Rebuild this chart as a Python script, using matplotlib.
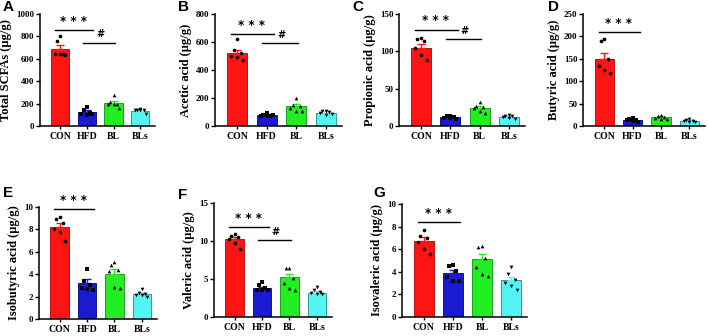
import matplotlib
matplotlib.use('Agg')
import matplotlib.pyplot as plt
import numpy as np

plt.rcParams['font.family'] = ['Liberation Serif', 'DejaVu Serif']
plt.rcParams['font.weight'] = 'bold'

groups = ['CON', 'HFD', 'BL', 'BLs']
colors = ['#ff1414', '#1a1ad2', '#22ee22', '#55f4f4']
edges = ['#b00000', '#000080', '#109010', '#208888']
markers = ['o', 's', '^', 'v']

panel_letters = ['A', 'B', 'C', 'D', 'E', 'F', 'G']
ylabels = ['Total SCFAs (μg/g)', 'Acetic acid (μg/g)', 'Propionic acid (μg/g)',
           'Butyric acid (μg/g)', 'Isobutyric acid (μg/g)', 'Valeric acid (μg/g)',
           'Isovaleric acid (μg/g)']
ymax = [1000, 800, 150, 250, 10, 15, 10]
ystep = [200, 200, 50, 50, 2, 5, 2]

means = [
    [690, 125, 205, 135],
    [520, 78, 140, 95],
    [105, 12, 24, 12],
    [150, 13, 19, 11],
    [8.2, 3.2, 4.0, 2.2],
    [10.2, 3.8, 5.2, 3.2],
    [6.75, 3.85, 5.1, 3.25],
]
sems = [
    [30, 15, 15, 10],
    [25, 5, 15, 10],
    [5, 1, 3, 1.5],
    [13, 2, 3, 2],
    [0.35, 0.35, 0.45, 0.12],
    [0.3, 0.2, 0.5, 0.2],
    [0.3, 0.3, 0.5, 0.3],
]
points = [
    [[800, 760, 640, 640, 640, 630], [170, 140, 120, 110, 100, 110],
     [280, 210, 200, 200, 200, 160], [150, 145, 140, 140, 140, 110]],
    [[620, 540, 520, 500, 490, 470], [90, 80, 75, 70, 75, 80],
     [200, 150, 140, 130, 110, 110], [110, 105, 100, 90, 80, 85]],
    [[118, 116, 114, 105, 95, 88], [14, 13, 12, 11, 11, 10],
     [32, 27, 25, 24, 20, 18], [15, 14, 13, 12, 11, 10]],
    [[195, 190, 150, 135, 125, 118], [17, 15, 14, 13, 12, 10],
     [25, 22, 20, 18, 16, 15], [15, 13, 12, 11, 10, 8]],
    [[9.1, 8.9, 8.6, 8.0, 7.8, 7.0], [4.5, 3.4, 3.0, 2.8, 2.7, 2.6],
     [5.1, 4.8, 4.4, 4.3, 2.9, 2.8], [2.7, 2.3, 2.2, 2.1, 2.1, 2.0]],
    [[10.9, 10.7, 10.5, 10.3, 9.8, 9.0], [4.6, 4.2, 3.8, 3.6, 3.5, 3.5],
     [6.5, 6.5, 5.1, 4.5, 3.8, 3.5], [3.9, 3.5, 3.3, 3.1, 3.0, 3.0]],
    [[7.7, 7.2, 7.0, 6.6, 6.0, 5.6], [4.6, 4.5, 4.1, 3.5, 3.2, 3.2],
     [6.3, 6.2, 5.2, 4.4, 3.8, 3.6], [4.4, 3.8, 3.3, 3.0, 2.7, 2.4]],
]
# heights of the significance lines (*** CON vs HFD, # HFD vs BL)
sig_star = [857, 657, 129, 209, 9.8, 11.8, 8.4]
sig_hash = [743, 593, 116, None, None, 10.1, None]

# axes boxes in pixels: left, right, top, bottom
boxes = [
    (40, 155, 14, 126), (215, 342, 14, 126), (399, 525, 14, 126), (583, 705, 14, 126),
    (39, 157, 207, 319), (214, 332, 203, 317), (402, 527, 204, 317),
]
letter_pos = [(3, 7), (178, 7), (352, 7), (548, 7), (3, 193), (178, 195), (373, 193)]

W, H = 708, 336
fig = plt.figure(figsize=(W / 100, H / 100), dpi=100)

# horizontal scatter of the dots inside each bar
offs = np.array([0.0, -0.12, 0.12, -0.2, 0.0, 0.2])

for i in range(7):
    l, r, t, b = boxes[i]
    ax = fig.add_axes([l / W, 1 - b / H, (r - l) / W, (b - t) / H])
    x = np.arange(len(groups))
    ax.bar(x, means[i], width=0.68, color=colors, edgecolor=edges, linewidth=0.6, zorder=2)
    for j in range(4):
        ax.errorbar(x[j], means[i][j], yerr=[[0], [sems[i][j]]], ecolor=colors[j],
                    elinewidth=1.0, capsize=3, capthick=1.0, zorder=3, fmt='none')
        ax.scatter(x[j] + offs, points[i][j], s=7, marker=markers[j], color='black',
                   zorder=4, linewidths=0)
    ax.set_xlim(-0.75, 3.55)
    ax.set_ylim(0, ymax[i])
    ax.set_yticks(np.arange(0, ymax[i] + ystep[i] / 2, ystep[i]))
    ax.set_xticks(x)
    ax.set_xticklabels(groups, fontsize=7, fontweight='bold')
    ax.tick_params(axis='y', labelsize=6.5, length=3, width=1, pad=1)
    ax.tick_params(axis='x', length=2.5, width=1, pad=2)
    for lab in ax.get_yticklabels():
        lab.set_fontweight('bold')
    ax.spines['top'].set_visible(False)
    ax.spines['right'].set_visible(False)
    ax.spines['left'].set_linewidth(1.1)
    ax.spines['bottom'].set_linewidth(1.1)
    ax.set_ylabel(ylabels[i], fontsize=9, fontweight='bold', labelpad=3)

    ys = sig_star[i]
    ax.plot([-0.2, 1.25], [ys, ys], color='black', lw=1, clip_on=False)
    ax.text(0.5, ys + ymax[i] * 0.02, '* * *', ha='center', va='bottom', fontsize=8.5,
            family='DejaVu Sans', clip_on=False)
    if sig_hash[i] is not None:
        yh = sig_hash[i]
        ax.plot([0.85, 2.05], [yh, yh], color='black', lw=1, clip_on=False)
        ax.text(1.5, yh + ymax[i] * 0.03, '#', ha='center', va='bottom', fontsize=7,
                family='DejaVu Sans', clip_on=False)

    lx, ly = letter_pos[i]
    fig.text(lx / W, 1 - ly / H, panel_letters[i], fontsize=11, fontweight='bold',
             family='Liberation Sans', ha='left', va='center')

fig.savefig('out.png', dpi=100)
